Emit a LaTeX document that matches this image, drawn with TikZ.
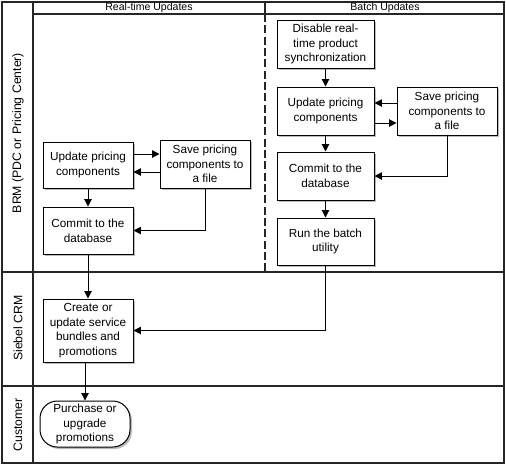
\documentclass[tikz,border=0pt]{standalone}
\usepackage{fontspec}
\setmainfont{Liberation Sans}
\usetikzlibrary{arrows.meta,shadows}
\begin{document}
\begin{tikzpicture}[x=0.75pt,y=-0.75pt,
  frame/.style={line width=0.8pt,draw=black!85},
  box/.style={draw,line width=0.75pt,fill=white,align=center,inner sep=0pt,
    font=\fontsize{8.8}{11}\selectfont,
    drop shadow={shadow xshift=1.5pt,shadow yshift=-1.5pt,fill=black!45,opacity=0.6}},
  arr/.style={line width=0.75pt,-{Triangle[length=5.5pt,width=5.5pt]}},
  lane/.style={rotate=90,font=\fontsize{9.2}{11}\selectfont},
  head/.style={font=\fontsize{7.9}{9}\selectfont}]
\useasboundingbox[fill=white] (0,0) rectangle (506,465);
% frame
\draw[frame] (2,2) rectangle (504,463);
\draw[frame] (33,2) -- (33,463);
\draw[frame] (33,14) -- (504,14);
\draw[frame] (2,272) -- (504,272);
\draw[frame] (2,386) -- (504,386);
\draw[frame] (265,2) -- (265,14);
\draw[frame,dash pattern=on 6pt off 2.5pt] (265,14) -- (265,272);
% headers and lanes
\node[head] (h1) at (149,8) {Real-time Updates};
\node[head] (h2) at (385,8) {Batch Updates};
\node[lane] (l1) at (18,133) {BRM (PDC or Pricing Center)};
\node[lane] (l2) at (18,328) {Siebel CRM};
\node[lane] (l3) at (18,425) {Customer};
% left boxes
\node[box,minimum width=67.5pt,minimum height=34.5pt] (lu) at (88,165) {Update pricing\\components};
\node[box,minimum width=67.5pt,minimum height=36pt] (ls) at (205,164) {Save pricing\\components to\\a file};
\node[box,minimum width=67.5pt,minimum height=35.25pt] (lc) at (88,230.5) {Commit to the\\database};
\node[box,minimum width=67.5pt,minimum height=47.25pt] (cr) at (88,330.5) {Create or\\update service\\bundles and\\promotions};
\node[box,rounded corners=13pt,minimum width=67.5pt,minimum height=34.5pt] (pu) at (85,424) {Purchase or\\upgrade\\promotions};
% right boxes
\node[box,minimum width=72.75pt,minimum height=36pt] (dis) at (325.5,44) {Disable real-\\time product\\synchronization};
\node[box,minimum width=72.75pt,minimum height=36pt] (ru) at (325.5,111) {Update pricing\\components};
\node[box,minimum width=75pt,minimum height=36pt] (rs) at (447,111) {Save pricing\\components to\\a file};
\node[box,minimum width=72.75pt,minimum height=36pt] (rc) at (325.5,176) {Commit to the\\database};
\node[box,minimum width=72.75pt,minimum height=35.25pt] (run) at (325.5,241.5) {Run the batch\\utility};
% arrows left
\draw[arr] (lu.east |- 0,154) -- (ls.west |- 0,154);
\draw[arr] (ls.west |- 0,172) -- (lu.east |- 0,172);
\draw[arr] (lu) -- (lc);
\draw[arr] (ls.south) |- (lc.east);
\draw[arr] (lc) -- (cr);
\draw[arr] (run.south) |- (cr.east);
\draw[arr] (cr.south -| pu.north) -- (pu.north);
% arrows right
\draw[arr] (dis) -- (ru);
\draw[arr] (rs.west |- 0,103) -- (ru.east |- 0,103);
\draw[arr] (ru.east |- 0,123) -- (rs.west |- 0,123);
\draw[arr] (rs.south) |- (rc.east);
\draw[arr] (ru) -- (rc);
\draw[arr] (rc) -- (run);
\end{tikzpicture}
\end{document}
